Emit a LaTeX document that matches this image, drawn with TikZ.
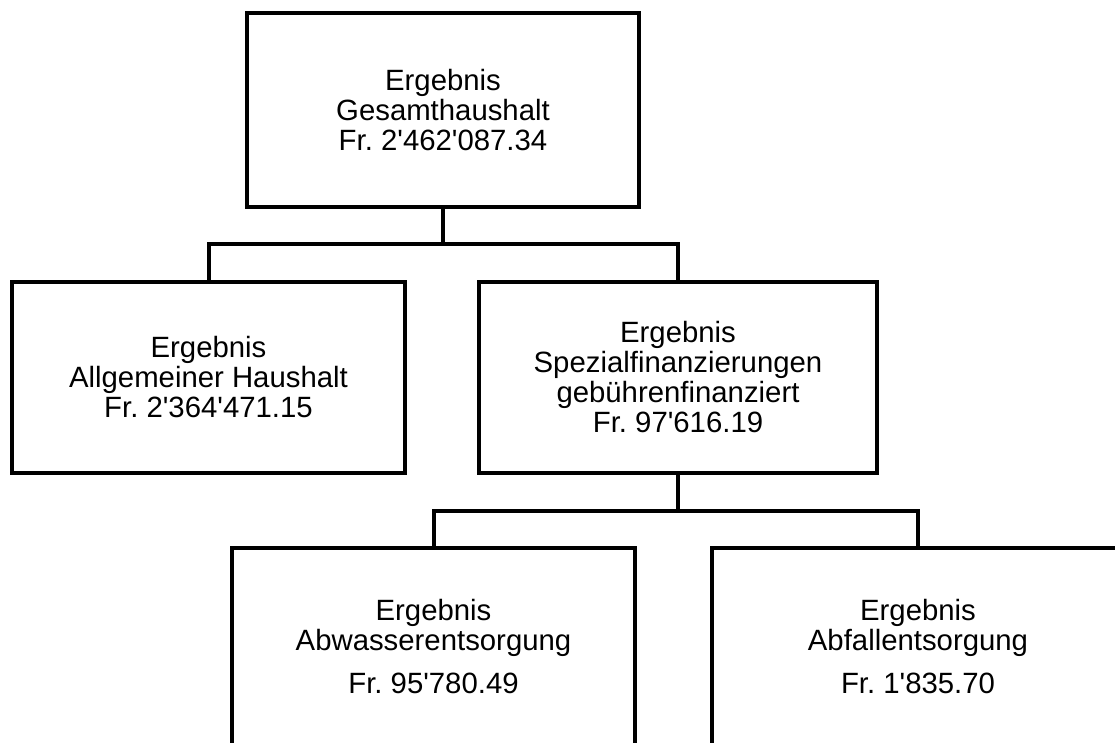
\documentclass[tikz,border=0pt]{standalone}
\usepackage{fontspec}
\newfontfamily\arialf{Liberation Sans}
\begin{document}
\begin{tikzpicture}[x=0.75pt,y=-0.75pt,
  box/.style={draw,line width=3pt,line join=miter,align=center,inner sep=0pt,
    font=\arialf\fontsize{22}{22.5}\selectfont\frenchspacing},
  link/.style={line width=3pt}]
\useasboundingbox (0,0) rectangle (1115,743);
\clip (0,0) rectangle (1115,743);
\node[box,minimum width=294pt,minimum height=145.5pt] (top) at (443,110)
  {Ergebnis\\Gesamthaushalt\\Fr. 2'462'087.34};
\node[box,minimum width=294.75pt,minimum height=143.25pt] (left) at (208.5,377.5)
  {Ergebnis\\Allgemeiner Haushalt\\Fr. 2'364'471.15};
\node[box,minimum width=298.5pt,minimum height=143.25pt] (mid) at (678,377.5)
  {Ergebnis\\Spezialfinanzierungen\\gebührenfinanziert\\Fr. 97'616.19};
\node[box,minimum width=302.25pt,minimum height=148.5pt] (bl) at (433.5,647)
  {Ergebnis\\Abwasserentsorgung\\[9.75pt]Fr. 95'780.49};
\node[box,minimum width=309pt,minimum height=148.5pt] (br) at (918,647)
  {Ergebnis\\Abfallentsorgung\\[9.75pt]Fr. 1'835.70};
\coordinate (j1) at (443,244);
\coordinate (j2) at (678,510.5);
\draw[link] (top.south) -- (j1);
\draw[link] (left.north) |- (j1) -| (mid.north);
\draw[link] (mid.south) -- (j2);
\draw[link] (bl.north) |- (j2) -| (br.north);
\end{tikzpicture}
\end{document}
